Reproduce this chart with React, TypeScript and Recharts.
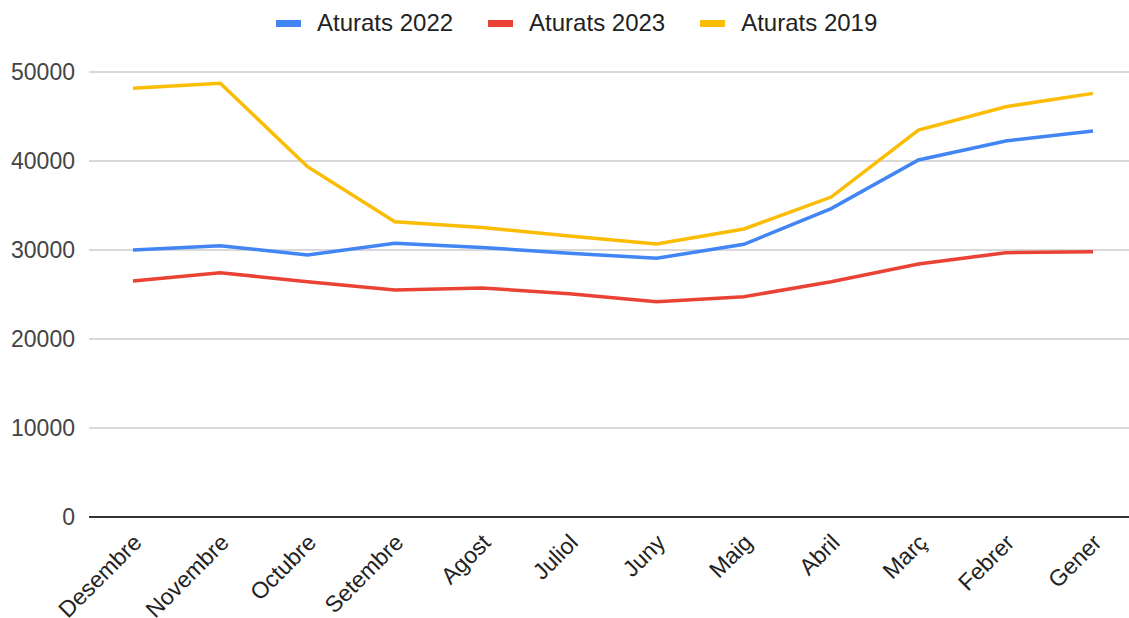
import { CartesianGrid, Legend, Line, LineChart, XAxis, YAxis } from 'recharts'

const months = ['Desembre', 'Novembre', 'Octubre', 'Setembre', 'Agost', 'Juliol', 'Juny', 'Maig', 'Abril', 'Març', 'Febrer', 'Gener']
const aturats2022 = [30000, 30490, 29440, 30750, 30280, 29640, 29070, 30640, 34650, 40110, 42250, 43370]
const aturats2023 = [26520, 27450, 26440, 25510, 25740, 25080, 24190, 24750, 26440, 28430, 29700, 29810]
const aturats2019 = [48170, 48730, 39360, 33180, 32530, 31570, 30670, 32360, 35950, 43480, 46100, 47600]
const yTicks = [0, 10000, 20000, 30000, 40000, 50000]
const seriesOrder = ['Aturats 2022', 'Aturats 2023', 'Aturats 2019']

const font = '"Liberation Sans", Arial, sans-serif'

const data = months.map((m, i) => ({
  month: m,
  a2022: aturats2022[i],
  a2023: aturats2023[i],
  a2019: aturats2019[i],
}))

function MonthTick({ x, y, payload }: any) {
  return (
    <g transform={`translate(${x + 10},${y + 19}) rotate(-45)`}>
      <text textAnchor="end" fontSize={23} fontFamily={font} fill="#222">
        {payload.value}
      </text>
    </g>
  )
}

function LegendRow({ payload }: any) {
  // keep the series order, recharts sorts the legend by name otherwise
  const items = [...(payload ?? [])].sort((a: any, b: any) => seriesOrder.indexOf(a.value) - seriesOrder.indexOf(b.value))
  return (
    <div style={{ display: 'flex', alignItems: 'center', height: 30, lineHeight: '30px', fontFamily: font, fontSize: 24, color: '#222', whiteSpace: 'nowrap' }}>
      {items.map((p: any, i: number) => (
        <div key={p.value} style={{ display: 'flex', alignItems: 'center', marginLeft: i === 0 ? 0 : 35 }}>
          <span style={{ display: 'inline-block', width: 25, height: 7, background: p.color, marginRight: 16 }} />
          <span>{p.value}</span>
        </div>
      ))}
    </div>
  )
}

export default function App() {
  return (
    <div style={{ position: 'absolute', left: 0, top: 0, width: 1129, height: 618, overflow: 'hidden', background: '#fff' }}>
      <LineChart width={1140} height={618} data={data} margin={{ top: 72, right: 3, bottom: 0, left: 0 }}>
        <CartesianGrid vertical={false} stroke="#cccccc" strokeWidth={1.5} />
        <XAxis
          dataKey="month"
          height={101}
          padding={{ left: 44, right: 44 }}
          interval={0}
          tickLine={false}
          axisLine={{ stroke: '#333', strokeWidth: 2 }}
          tick={<MonthTick />}
        />
        <YAxis
          width={89}
          domain={[0, 50000]}
          ticks={yTicks}
          tickLine={false}
          axisLine={false}
          tickMargin={8}
          tick={{ fill: '#444', fontSize: 23, fontFamily: font }}
        />
        <Legend
          verticalAlign="middle"
          layout="horizontal"
          content={<LegendRow />}
          wrapperStyle={{ left: 276, top: 8, width: 700, height: 30 }}
        />
        <Line dataKey="a2022" name="Aturats 2022" stroke="#4285F4" strokeWidth={3.5} dot={false} isAnimationActive={false} />
        <Line dataKey="a2023" name="Aturats 2023" stroke="#EA4335" strokeWidth={3.5} dot={false} isAnimationActive={false} />
        <Line dataKey="a2019" name="Aturats 2019" stroke="#FBBC04" strokeWidth={3.5} dot={false} isAnimationActive={false} />
      </LineChart>
    </div>
  )
}
